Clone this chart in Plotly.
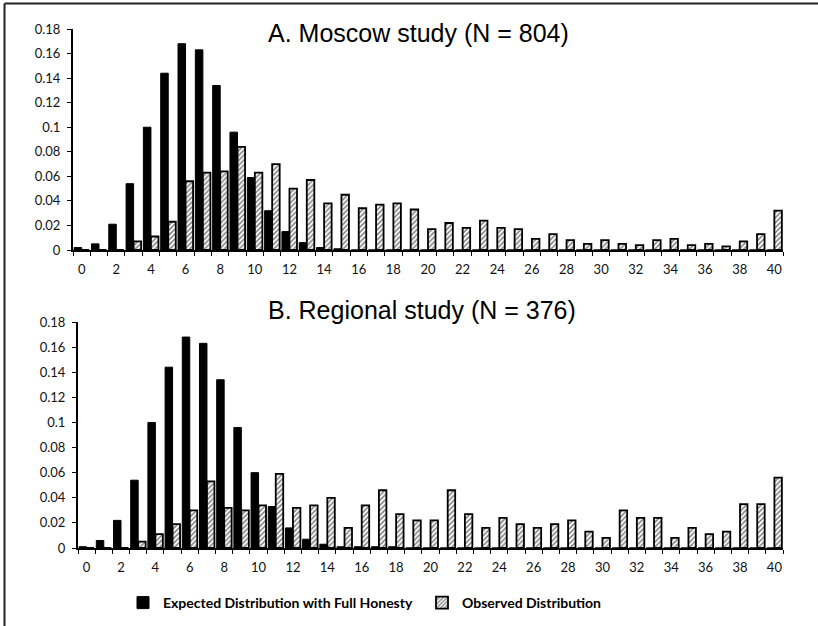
import plotly.graph_objects as go

W, H = 818, 626

categories = list(range(41))

moscow_expected = [0.002, 0.005, 0.021, 0.054, 0.100, 0.144, 0.168, 0.163, 0.134, 0.096,
                   0.059, 0.032, 0.015, 0.006, 0.002, 0.001, 0, 0, 0, 0,
                   0, 0, 0, 0, 0, 0, 0, 0, 0, 0,
                   0, 0, 0, 0, 0, 0, 0, 0, 0, 0, 0]
moscow_observed = [0, 0, 0, 0.007, 0.011, 0.023, 0.056, 0.063, 0.064, 0.084,
                   0.063, 0.070, 0.050, 0.057, 0.038, 0.045, 0.034, 0.037, 0.038, 0.033,
                   0.017, 0.022, 0.018, 0.024, 0.018, 0.017, 0.009, 0.013, 0.008, 0.005,
                   0.008, 0.005, 0.004, 0.008, 0.009, 0.004, 0.005, 0.003, 0.007, 0.013, 0.032]

regional_expected = [0.001, 0.006, 0.022, 0.054, 0.100, 0.144, 0.168, 0.163, 0.134, 0.096,
                     0.060, 0.033, 0.016, 0.007, 0.003, 0.001, 0.001, 0.001, 0.001, 0,
                     0, 0, 0, 0, 0, 0, 0, 0, 0, 0,
                     0, 0, 0, 0, 0, 0, 0, 0, 0, 0, 0]
regional_observed = [0, 0, 0, 0.005, 0.011, 0.019, 0.030, 0.053, 0.032, 0.030,
                     0.034, 0.059, 0.032, 0.034, 0.040, 0.016, 0.034, 0.046, 0.027, 0.022,
                     0.022, 0.046, 0.027, 0.016, 0.024, 0.019, 0.016, 0.019, 0.022, 0.013,
                     0.008, 0.030, 0.024, 0.024, 0.008, 0.016, 0.011, 0.013, 0.035, 0.035, 0.056]

x_ticks = list(range(0, 41, 2))
y_ticks = [0, 0.02, 0.04, 0.06, 0.08, 0.1, 0.12, 0.14, 0.16, 0.18]
y_tick_text = ["0", "0.02", "0.04", "0.06", "0.08", "0.1", "0.12", "0.14", "0.16", "0.18"]

titles = ["A. Moscow study (N = 804)", "B. Regional study (N = 376)"]
legend_names = ["Expected Distribution with Full Honesty", "Observed Distribution"]

TICK_FONT = dict(family="Lato, Carlito, Calibri, sans-serif", size=13, color="#111")

fig = go.Figure()

def add_pair(expected, observed, xa, ya, showlegend):
    fig.add_trace(go.Bar(
        x=categories, y=expected, name=legend_names[0], xaxis=xa, yaxis=ya,
        marker=dict(color="black", line=dict(color="black", width=1)),
        showlegend=showlegend, legendgroup="exp"))
    fig.add_trace(go.Bar(
        x=categories, y=observed, name=legend_names[1], xaxis=xa, yaxis=ya,
        marker=dict(color="white",
                    pattern=dict(shape="/", fgcolor="black", bgcolor="white", size=3.5, solidity=0.45),
                    line=dict(color="black", width=1.8)),
        showlegend=showlegend, legendgroup="obs"))

add_pair(moscow_expected, moscow_observed, "x", "y", True)
add_pair(regional_expected, regional_observed, "x2", "y2", False)

def xaxis_cfg(x0, x1, anchor):
    return dict(
        domain=[x0 / W, x1 / W], anchor=anchor, range=[-0.5, 40.5],
        tickmode="array", tickvals=x_ticks, ticks="", showgrid=False, zeroline=False,
        showline=True, linecolor="black", linewidth=2, tickfont=TICK_FONT, automargin=False,
        ticklabelstandoff=6,
        minor=dict(tickmode="array", tickvals=[i - 0.5 for i in range(42)],
                   ticks="outside", ticklen=4, tickwidth=1, tickcolor="black", showgrid=False),
    )

def yaxis_cfg(top, bottom, anchor):
    return dict(
        domain=[1 - bottom / H, 1 - top / H], anchor=anchor, range=[0, 0.18],
        tickmode="array", tickvals=y_ticks, ticktext=y_tick_text, automargin=False,
        ticks="outside", ticklen=4, tickcolor="black", showgrid=False, zeroline=False,
        showline=True, linecolor="black", linewidth=2, tickfont=TICK_FONT,
        ticklabelstandoff=4,
    )

fig.update_layout(
    width=W, height=H, margin=dict(l=0, r=0, t=0, b=0, autoexpand=False),
    paper_bgcolor="white", plot_bgcolor="white",
    barmode="group", bargap=0.13, bargroupgap=0,
    xaxis=xaxis_cfg(73, 783, "y"), yaxis=yaxis_cfg(29, 250, "x"),
    xaxis2=xaxis_cfg(78, 783, "y2"), yaxis2=yaxis_cfg(322, 548, "x2"),
    legend=dict(orientation="h", x=(163 - 40) / W, xanchor="left", y=1 - 603 / H, yanchor="middle",
                font=dict(family="Lato, Carlito, Calibri, sans-serif", size=14, color="black", weight="bold"),
                itemwidth=30, tracegroupgap=0, entrywidth=254, entrywidthmode="pixels"),
    annotations=[
        dict(text=titles[0], x=418 / W, y=1 - 33 / H, xref="paper", yref="paper",
             showarrow=False, xanchor="center", yanchor="middle",
             font=dict(family="Liberation Sans, Arial, sans-serif", size=25, color="black")),
        dict(text=titles[1], x=422 / W, y=1 - 310 / H, xref="paper", yref="paper",
             showarrow=False, xanchor="center", yanchor="middle",
             font=dict(family="Liberation Sans, Arial, sans-serif", size=25, color="black")),
    ],
    shapes=[
        dict(type="line", xref="paper", yref="paper", x0=4.5 / W, x1=4.5 / W, y0=0, y1=1 - 3.5 / H,
             line=dict(color="#222", width=2)),
        dict(type="line", xref="paper", yref="paper", x0=4.5 / W, x1=1, y0=1 - 3.5 / H, y1=1 - 3.5 / H,
             line=dict(color="#222", width=2)),
    ],
)

fig.write_html("out.html", config={"displayModeBar": False},
               post_script="document.body.style.margin='0';")
